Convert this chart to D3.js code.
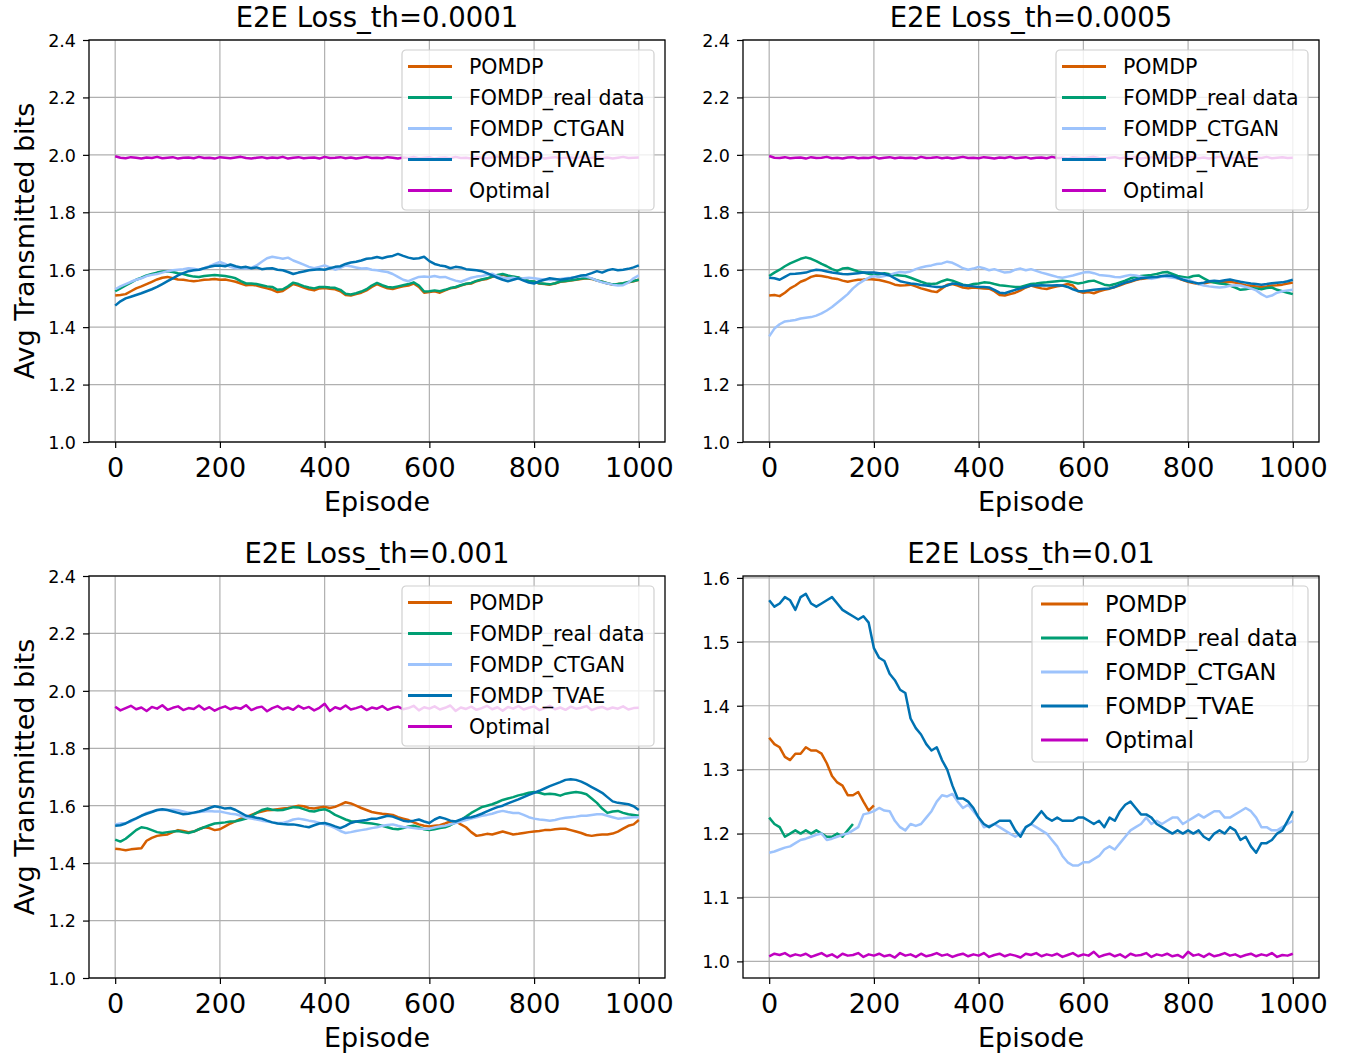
<!DOCTYPE html>
<html>
<head>
<meta charset="utf-8">
<script src="https://cdn.jsdelivr.net/npm/d3@7"></script>
<style>
  body { margin: 0; background: #fff; }
  text { font-family: "DejaVu Sans", sans-serif; fill: #000; }
</style>
</head>
<body>
<div id="chart"></div>
<script>
// series names + colours (legend order)
var names = ["POMDP", "FOMDP_real data", "FOMDP_CTGAN", "FOMDP_TVAE", "Optimal"];
var colors = ["#d55e00", "#009e73", "#9dc3fc", "#0072b2", "#c000c0"];

var xTicks = [0, 200, 400, 600, 800, 1000];
var yTicksWide = [1.0, 1.2, 1.4, 1.6, 1.8, 2.0, 2.2, 2.4];
var yTicksNarrow = [1.0, 1.1, 1.2, 1.3, 1.4, 1.5, 1.6];

// values read every 10 episodes (index i -> episode 10*i)

/* E2E Loss_th=0.0001 */
var tlPomdp = [1.510,1.512,1.515,1.525,1.535,1.542,1.550,1.558,1.566,1.572,1.575,1.570,1.566,1.565,1.562,1.560,1.562,1.565,1.566,1.568,1.565,1.566,1.562,1.558,1.552,1.546,1.548,1.545,1.540,1.535,1.530,1.522,1.526,1.538,1.550,1.545,1.538,1.532,1.528,1.535,1.536,1.534,1.532,1.525,1.512,1.510,1.515,1.520,1.528,1.540,1.550,1.542,1.535,1.533,1.538,1.542,1.545,1.552,1.540,1.520,1.522,1.525,1.520,1.528,1.535,1.538,1.545,1.550,1.552,1.560,1.565,1.568,1.575,1.580,1.582,1.578,1.575,1.572,1.565,1.560,1.558,1.552,1.550,1.548,1.552,1.558,1.560,1.562,1.565,1.568,1.570,1.568,1.562,1.558,1.552,1.548,1.550,1.552,1.556,1.560,1.565];
var tlGreen = [1.525,1.535,1.545,1.555,1.565,1.572,1.580,1.585,1.590,1.594,1.595,1.592,1.588,1.585,1.580,1.576,1.575,1.578,1.580,1.582,1.580,1.578,1.575,1.570,1.560,1.552,1.552,1.550,1.546,1.542,1.540,1.530,1.532,1.542,1.555,1.550,1.543,1.538,1.535,1.540,1.540,1.538,1.537,1.530,1.516,1.514,1.518,1.524,1.532,1.545,1.554,1.546,1.540,1.538,1.542,1.546,1.550,1.556,1.545,1.524,1.525,1.528,1.525,1.530,1.536,1.540,1.546,1.551,1.554,1.561,1.566,1.570,1.576,1.582,1.585,1.580,1.576,1.573,1.566,1.561,1.559,1.553,1.551,1.549,1.553,1.559,1.561,1.563,1.566,1.569,1.571,1.569,1.563,1.558,1.553,1.549,1.550,1.553,1.557,1.561,1.565];
var tlCtgan = [1.532,1.542,1.550,1.558,1.565,1.570,1.578,1.582,1.585,1.590,1.595,1.598,1.600,1.602,1.605,1.603,1.600,1.605,1.612,1.620,1.627,1.620,1.610,1.605,1.606,1.604,1.606,1.615,1.628,1.640,1.645,1.642,1.638,1.642,1.632,1.625,1.618,1.610,1.605,1.610,1.615,1.608,1.600,1.606,1.615,1.612,1.608,1.604,1.605,1.600,1.598,1.595,1.592,1.585,1.575,1.565,1.560,1.568,1.575,1.576,1.575,1.578,1.574,1.575,1.568,1.562,1.558,1.565,1.572,1.576,1.578,1.582,1.586,1.578,1.572,1.570,1.572,1.568,1.570,1.572,1.570,1.568,1.566,1.564,1.566,1.568,1.570,1.572,1.575,1.578,1.576,1.570,1.562,1.556,1.552,1.548,1.545,1.546,1.555,1.570,1.580];
var tlTvae = [1.475,1.490,1.500,1.506,1.512,1.518,1.525,1.532,1.540,1.550,1.560,1.570,1.580,1.588,1.595,1.598,1.600,1.605,1.610,1.614,1.615,1.612,1.618,1.612,1.608,1.610,1.605,1.608,1.602,1.604,1.605,1.600,1.598,1.592,1.585,1.590,1.594,1.598,1.600,1.602,1.600,1.605,1.610,1.612,1.620,1.625,1.628,1.632,1.638,1.640,1.644,1.640,1.645,1.648,1.655,1.648,1.642,1.638,1.640,1.645,1.630,1.620,1.615,1.612,1.605,1.610,1.608,1.602,1.600,1.598,1.595,1.588,1.580,1.572,1.565,1.560,1.565,1.570,1.562,1.555,1.552,1.560,1.565,1.570,1.568,1.565,1.568,1.570,1.575,1.580,1.582,1.588,1.595,1.590,1.598,1.602,1.598,1.600,1.603,1.608,1.615];
var tlOptimal = [1.995,1.990,1.988,1.992,1.990,1.987,1.991,1.989,1.993,1.988,1.990,1.992,1.987,1.990,1.991,1.988,1.993,1.989,1.990,1.987,1.992,1.990,1.988,1.991,1.993,1.989,1.987,1.990,1.992,1.988,1.991,1.989,1.993,1.987,1.990,1.992,1.988,1.990,1.991,1.987,1.993,1.989,1.990,1.992,1.988,1.991,1.987,1.990,1.993,1.989,1.990,1.988,1.992,1.990,1.987,1.991,1.989,1.993,1.988,1.990,1.992,1.987,1.990,1.991,1.988,1.993,1.989,1.990,1.987,1.992,1.990,1.988,1.991,1.993,1.989,1.987,1.990,1.992,1.988,1.991,1.989,1.993,1.987,1.990,1.992,1.988,1.990,1.991,1.987,1.993,1.989,1.990,1.992,1.988,1.991,1.987,1.990,1.993,1.989,1.990,1.991];

/* E2E Loss_th=0.0005 */
var trPomdp = [1.510,1.512,1.508,1.520,1.535,1.545,1.558,1.565,1.575,1.580,1.578,1.575,1.570,1.568,1.562,1.558,1.562,1.565,1.566,1.568,1.566,1.564,1.560,1.555,1.548,1.545,1.546,1.548,1.542,1.535,1.530,1.525,1.522,1.535,1.548,1.550,1.545,1.538,1.535,1.538,1.536,1.535,1.534,1.525,1.512,1.510,1.515,1.520,1.528,1.538,1.545,1.540,1.535,1.533,1.538,1.542,1.545,1.550,1.545,1.525,1.520,1.522,1.518,1.525,1.530,1.534,1.540,1.546,1.553,1.558,1.564,1.568,1.570,1.572,1.574,1.576,1.578,1.576,1.570,1.564,1.558,1.554,1.550,1.552,1.556,1.558,1.556,1.556,1.558,1.555,1.550,1.546,1.544,1.542,1.540,1.542,1.545,1.546,1.548,1.552,1.555];
var trGreen = [1.578,1.590,1.600,1.612,1.622,1.630,1.638,1.643,1.638,1.630,1.620,1.612,1.602,1.596,1.604,1.606,1.600,1.594,1.590,1.586,1.582,1.584,1.588,1.584,1.582,1.580,1.578,1.572,1.565,1.558,1.552,1.550,1.552,1.560,1.566,1.562,1.555,1.548,1.545,1.550,1.552,1.556,1.555,1.550,1.546,1.544,1.542,1.540,1.540,1.545,1.550,1.552,1.555,1.556,1.558,1.560,1.562,1.560,1.556,1.552,1.555,1.560,1.562,1.555,1.548,1.545,1.550,1.556,1.562,1.570,1.575,1.578,1.580,1.582,1.585,1.590,1.592,1.585,1.578,1.575,1.572,1.578,1.580,1.570,1.560,1.555,1.552,1.550,1.545,1.538,1.530,1.532,1.536,1.535,1.532,1.536,1.538,1.530,1.525,1.520,1.515];
var trCtgan = [1.368,1.395,1.410,1.420,1.422,1.425,1.430,1.433,1.435,1.440,1.448,1.458,1.470,1.485,1.500,1.515,1.535,1.550,1.562,1.572,1.578,1.575,1.578,1.582,1.588,1.592,1.590,1.594,1.602,1.608,1.612,1.615,1.620,1.622,1.628,1.624,1.615,1.605,1.600,1.604,1.610,1.605,1.598,1.602,1.596,1.590,1.592,1.600,1.604,1.598,1.602,1.596,1.590,1.585,1.580,1.575,1.572,1.576,1.580,1.585,1.590,1.592,1.588,1.582,1.580,1.578,1.575,1.574,1.578,1.582,1.580,1.576,1.572,1.568,1.572,1.576,1.575,1.572,1.570,1.568,1.565,1.558,1.550,1.545,1.542,1.540,1.538,1.540,1.544,1.546,1.545,1.540,1.535,1.528,1.515,1.505,1.510,1.520,1.525,1.528,1.530];
var trTvae = [1.572,1.570,1.565,1.575,1.585,1.586,1.588,1.590,1.596,1.600,1.598,1.594,1.590,1.588,1.585,1.584,1.586,1.588,1.590,1.590,1.590,1.588,1.585,1.580,1.570,1.560,1.556,1.552,1.550,1.547,1.545,1.542,1.540,1.540,1.545,1.552,1.550,1.546,1.544,1.542,1.540,1.540,1.538,1.530,1.520,1.518,1.524,1.530,1.535,1.540,1.545,1.545,1.546,1.545,1.545,1.546,1.545,1.540,1.532,1.526,1.525,1.528,1.530,1.532,1.534,1.535,1.540,1.548,1.555,1.560,1.566,1.570,1.572,1.574,1.575,1.578,1.580,1.578,1.572,1.565,1.560,1.556,1.552,1.555,1.560,1.562,1.560,1.563,1.566,1.562,1.558,1.555,1.552,1.550,1.548,1.550,1.553,1.555,1.556,1.560,1.565];
var trOptimal = [1.996,1.990,1.989,1.992,1.988,1.990,1.991,1.987,1.992,1.989,1.990,1.993,1.988,1.990,1.987,1.991,1.992,1.988,1.990,1.989,1.993,1.987,1.990,1.992,1.988,1.991,1.989,1.990,1.987,1.993,1.989,1.990,1.992,1.988,1.991,1.987,1.990,1.993,1.989,1.990,1.988,1.992,1.990,1.987,1.991,1.989,1.993,1.988,1.990,1.992,1.987,1.990,1.991,1.988,1.993,1.989,1.990,1.987,1.992,1.990,1.988,1.991,1.993,1.989,1.987,1.990,1.992,1.988,1.991,1.989,1.993,1.987,1.990,1.992,1.988,1.990,1.991,1.987,1.993,1.989,1.990,1.992,1.988,1.991,1.987,1.990,1.993,1.989,1.990,1.988,1.992,1.990,1.987,1.991,1.989,1.993,1.988,1.990,1.992,1.989,1.990];

/* E2E Loss_th=0.001 */
var blPomdp = [1.450,1.448,1.445,1.448,1.450,1.452,1.478,1.488,1.495,1.498,1.500,1.508,1.515,1.512,1.508,1.510,1.518,1.525,1.522,1.515,1.518,1.528,1.538,1.546,1.555,1.560,1.568,1.575,1.580,1.584,1.585,1.588,1.590,1.592,1.596,1.600,1.598,1.592,1.590,1.594,1.596,1.592,1.596,1.604,1.612,1.608,1.600,1.592,1.585,1.578,1.575,1.572,1.570,1.568,1.560,1.555,1.550,1.542,1.535,1.530,1.528,1.530,1.532,1.538,1.545,1.546,1.535,1.525,1.508,1.495,1.498,1.502,1.500,1.505,1.510,1.505,1.500,1.502,1.505,1.508,1.510,1.512,1.515,1.515,1.518,1.520,1.520,1.515,1.510,1.505,1.498,1.495,1.498,1.500,1.500,1.503,1.510,1.520,1.530,1.535,1.550];
var blGreen = [1.482,1.475,1.485,1.500,1.515,1.525,1.522,1.515,1.508,1.505,1.508,1.510,1.512,1.508,1.505,1.510,1.518,1.525,1.532,1.538,1.540,1.542,1.545,1.546,1.550,1.555,1.565,1.575,1.585,1.590,1.586,1.584,1.585,1.590,1.595,1.594,1.588,1.582,1.580,1.585,1.588,1.580,1.568,1.560,1.552,1.546,1.545,1.542,1.540,1.538,1.535,1.530,1.525,1.520,1.518,1.522,1.528,1.530,1.525,1.518,1.515,1.518,1.522,1.525,1.532,1.542,1.550,1.562,1.575,1.585,1.595,1.600,1.605,1.612,1.620,1.625,1.630,1.636,1.640,1.645,1.648,1.645,1.640,1.642,1.640,1.635,1.642,1.645,1.648,1.645,1.640,1.625,1.610,1.590,1.575,1.580,1.582,1.575,1.570,1.568,1.565];
var blCtgan = [1.535,1.538,1.540,1.545,1.555,1.565,1.575,1.580,1.584,1.586,1.585,1.586,1.584,1.580,1.576,1.575,1.578,1.580,1.582,1.580,1.580,1.576,1.572,1.570,1.565,1.558,1.555,1.552,1.548,1.545,1.542,1.540,1.540,1.545,1.552,1.555,1.552,1.548,1.545,1.540,1.535,1.530,1.522,1.512,1.505,1.508,1.512,1.515,1.518,1.522,1.525,1.530,1.533,1.535,1.530,1.526,1.525,1.522,1.520,1.520,1.520,1.524,1.528,1.530,1.535,1.540,1.545,1.550,1.555,1.560,1.565,1.568,1.572,1.578,1.582,1.578,1.575,1.575,1.568,1.560,1.555,1.552,1.550,1.548,1.550,1.555,1.558,1.560,1.562,1.565,1.565,1.568,1.570,1.570,1.565,1.560,1.555,1.556,1.558,1.560,1.560];
var blTvae = [1.530,1.532,1.538,1.548,1.556,1.565,1.572,1.578,1.585,1.588,1.585,1.580,1.575,1.570,1.572,1.576,1.580,1.585,1.592,1.598,1.595,1.590,1.592,1.585,1.575,1.565,1.562,1.558,1.555,1.548,1.542,1.538,1.536,1.535,1.535,1.532,1.528,1.525,1.532,1.538,1.540,1.535,1.528,1.522,1.530,1.540,1.545,1.548,1.550,1.555,1.555,1.560,1.565,1.562,1.555,1.548,1.545,1.548,1.552,1.545,1.540,1.552,1.560,1.555,1.548,1.545,1.552,1.558,1.560,1.565,1.572,1.580,1.588,1.595,1.600,1.608,1.615,1.622,1.630,1.638,1.645,1.652,1.660,1.668,1.675,1.682,1.690,1.692,1.690,1.684,1.675,1.665,1.655,1.645,1.630,1.615,1.610,1.608,1.605,1.598,1.585];
var blOptimal = [1.945,1.932,1.940,1.948,1.936,1.942,1.930,1.944,1.938,1.950,1.934,1.941,1.946,1.933,1.940,1.937,1.949,1.935,1.943,1.931,1.940,1.946,1.936,1.942,1.938,1.950,1.933,1.941,1.945,1.929,1.940,1.947,1.936,1.942,1.934,1.948,1.938,1.944,1.932,1.941,1.955,1.930,1.943,1.937,1.949,1.935,1.940,1.946,1.933,1.942,1.938,1.947,1.934,1.941,1.945,1.936,1.940,1.948,1.932,1.943,1.938,1.946,1.935,1.941,1.949,1.930,1.942,1.937,1.945,1.934,1.940,1.948,1.936,1.943,1.931,1.944,1.938,1.947,1.935,1.941,1.946,1.933,1.940,1.948,1.936,1.942,1.934,1.945,1.938,1.941,1.947,1.933,1.940,1.944,1.936,1.942,1.938,1.946,1.935,1.940,1.941];

/* E2E Loss_th=0.01 */
var brPomdp = [1.350,1.340,1.335,1.320,1.315,1.325,1.325,1.335,1.330,1.330,1.325,1.310,1.290,1.280,1.275,1.260,1.260,1.265,1.250,1.236,1.244];
var brGreen = [1.225,1.215,1.210,1.195,1.200,1.205,1.200,1.205,1.200,1.205,1.200,1.195,1.195,1.200,1.195,1.205,1.215];
var brCtgan = [1.170,1.172,1.175,1.178,1.180,1.185,1.190,1.192,1.195,1.198,1.200,1.190,1.192,1.195,1.198,1.200,1.205,1.210,1.230,1.232,1.235,1.240,1.236,1.235,1.220,1.210,1.205,1.215,1.212,1.215,1.225,1.235,1.250,1.260,1.258,1.262,1.250,1.240,1.245,1.235,1.225,1.210,1.212,1.215,1.210,1.205,1.200,1.195,1.200,1.210,1.215,1.210,1.205,1.200,1.190,1.180,1.165,1.155,1.150,1.150,1.155,1.155,1.160,1.165,1.175,1.180,1.175,1.185,1.195,1.205,1.210,1.215,1.225,1.215,1.220,1.215,1.220,1.225,1.225,1.215,1.220,1.225,1.230,1.225,1.230,1.235,1.235,1.225,1.225,1.230,1.235,1.240,1.235,1.225,1.210,1.210,1.205,1.205,1.210,1.215,1.220];
var brTvae = [1.565,1.555,1.560,1.570,1.565,1.550,1.570,1.575,1.560,1.555,1.560,1.565,1.570,1.560,1.550,1.545,1.540,1.535,1.540,1.530,1.490,1.475,1.470,1.450,1.440,1.425,1.420,1.380,1.365,1.355,1.340,1.330,1.335,1.315,1.300,1.275,1.255,1.255,1.250,1.240,1.225,1.215,1.210,1.215,1.220,1.220,1.220,1.205,1.195,1.210,1.215,1.225,1.235,1.225,1.220,1.225,1.220,1.220,1.220,1.225,1.225,1.220,1.215,1.220,1.210,1.225,1.220,1.235,1.245,1.250,1.240,1.230,1.230,1.225,1.215,1.210,1.205,1.200,1.205,1.200,1.205,1.200,1.205,1.195,1.190,1.200,1.205,1.200,1.210,1.205,1.190,1.195,1.180,1.170,1.185,1.185,1.190,1.200,1.205,1.220,1.235];
var brOptimal = [1.008,1.012,1.010,1.013,1.008,1.011,1.009,1.012,1.007,1.010,1.013,1.008,1.011,1.006,1.012,1.009,1.010,1.013,1.007,1.011,1.009,1.012,1.008,1.010,1.006,1.013,1.009,1.011,1.007,1.012,1.008,1.010,1.013,1.009,1.011,1.007,1.010,1.012,1.008,1.011,1.009,1.013,1.007,1.010,1.012,1.008,1.011,1.009,1.006,1.012,1.010,1.013,1.008,1.011,1.009,1.012,1.007,1.010,1.013,1.008,1.011,1.009,1.015,1.007,1.010,1.012,1.008,1.011,1.006,1.012,1.009,1.010,1.013,1.007,1.011,1.009,1.012,1.008,1.010,1.006,1.015,1.009,1.011,1.007,1.012,1.008,1.010,1.013,1.009,1.011,1.007,1.010,1.012,1.008,1.011,1.009,1.013,1.007,1.010,1.009,1.012];

var W = 1353, H = 1059;
var pw = 576, ph = 402;

var panels = [
  {title: "E2E Loss_th=0.0001", left: 89, top: 40, y: [1.0, 2.4], yt: yTicksWide, ylab: true,
   data: [tlPomdp, tlGreen, tlCtgan, tlTvae, tlOptimal], leg: {w: 252, h: 160, fs: 20.5, row: 31, first: 16.5, hx: 6, hl: 44, tx: 67}},
  {title: "E2E Loss_th=0.0005", left: 743, top: 40, y: [1.0, 2.4], yt: yTicksWide, ylab: false,
   data: [trPomdp, trGreen, trCtgan, trTvae, trOptimal], leg: {w: 252, h: 160, fs: 20.5, row: 31, first: 16.5, hx: 6, hl: 44, tx: 67}},
  {title: "E2E Loss_th=0.001", left: 89, top: 576, y: [1.0, 2.4], yt: yTicksWide, ylab: true,
   data: [blPomdp, blGreen, blCtgan, blTvae, blOptimal], leg: {w: 252, h: 160, fs: 20.5, row: 31, first: 16.5, hx: 6, hl: 44, tx: 67}},
  {title: "E2E Loss_th=0.01", left: 743, top: 576, y: [0.974, 1.603], yt: yTicksNarrow, ylab: false,
   data: [brPomdp, brGreen, brCtgan, brTvae, brOptimal], leg: {w: 276, h: 176, fs: 22.5, row: 34, first: 18, hx: 9, hl: 47, tx: 73}}
];

var svg = d3.select("#chart").append("svg")
    .attr("width", W)
    .attr("height", H);

panels.forEach(function (p) {
    var x = d3.scaleLinear().domain([-50, 1050]).range([0, pw]);
    var y = d3.scaleLinear().domain(p.y).range([ph, 0]);

    var g = svg.append("g").attr("transform", "translate(" + p.left + "," + p.top + ")");

    // grid
    g.append("g").selectAll("line").data(xTicks).enter().append("line")
        .attr("x1", function (d) { return x(d); }).attr("x2", function (d) { return x(d); })
        .attr("y1", 0).attr("y2", ph)
        .attr("stroke", "#b0b0b0").attr("stroke-width", 1.2);
    g.append("g").selectAll("line").data(p.yt).enter().append("line")
        .attr("y1", function (d) { return y(d); }).attr("y2", function (d) { return y(d); })
        .attr("x1", 0).attr("x2", pw)
        .attr("stroke", "#b0b0b0").attr("stroke-width", 1.2);

    // lines
    var line = d3.line()
        .x(function (d, i) { return x(i * 10); })
        .y(function (d) { return y(d); });

    p.data.forEach(function (vals, k) {
        g.append("path")
            .datum(vals)
            .attr("fill", "none")
            .attr("stroke", colors[k])
            .attr("stroke-width", 2.5)
            .attr("stroke-linejoin", "round")
            .attr("d", line);
    });

    // axes
    var xAxis = d3.axisBottom(x).tickValues(xTicks).tickSize(6).tickPadding(6).tickFormat(d3.format("d"));
    var yAxis = d3.axisLeft(y).tickValues(p.yt).tickSize(6).tickPadding(6).tickFormat(d3.format(".1f"));

    var gx = g.append("g").attr("transform", "translate(0," + ph + ")").call(xAxis);
    gx.select(".domain").remove();
    gx.selectAll("line").attr("stroke", "#000").attr("stroke-width", 1.2);
    gx.selectAll("text").attr("font-size", 27).attr("dy", null).attr("y", 35);

    var gy = g.append("g").call(yAxis);
    gy.select(".domain").remove();
    gy.selectAll("line").attr("stroke", "#000").attr("stroke-width", 1.2);
    gy.selectAll("text").attr("font-size", 17.5).attr("dy", "0.36em").attr("x", -13);

    // frame
    g.append("rect").attr("width", pw).attr("height", ph)
        .attr("fill", "none").attr("stroke", "#000").attr("stroke-width", 1.3);

    // title + labels
    g.append("text").attr("x", pw / 2).attr("y", -13)
        .attr("text-anchor", "middle").attr("font-size", 27.5)
        .text(p.title);
    g.append("text").attr("x", pw / 2).attr("y", ph + 69)
        .attr("text-anchor", "middle").attr("font-size", 27)
        .text("Episode");
    if (p.ylab) {
        svg.append("text")
            .attr("transform", "translate(34," + (p.top + ph / 2) + ") rotate(-90)")
            .attr("text-anchor", "middle").attr("font-size", 27)
            .text("Avg Transmitted bits");
    }

    // legend
    var L = p.leg;
    var lg = g.append("g").attr("transform", "translate(" + (pw - 11 - L.w) + ",10)");
    lg.append("rect").attr("width", L.w).attr("height", L.h)
        .attr("rx", 4).attr("ry", 4)
        .attr("fill", "#fff").attr("fill-opacity", 0.8)
        .attr("stroke", "#d0d0d0").attr("stroke-width", 1.2);
    names.forEach(function (n, k) {
        var cy = L.first + k * L.row;
        lg.append("line").attr("x1", L.hx).attr("x2", L.hx + L.hl)
            .attr("y1", cy).attr("y2", cy)
            .attr("stroke", colors[k]).attr("stroke-width", 3);
        lg.append("text").attr("x", L.tx).attr("y", cy).attr("dy", "0.36em")
            .attr("font-size", L.fs).text(n);
    });
});
</script>
</body>
</html>
